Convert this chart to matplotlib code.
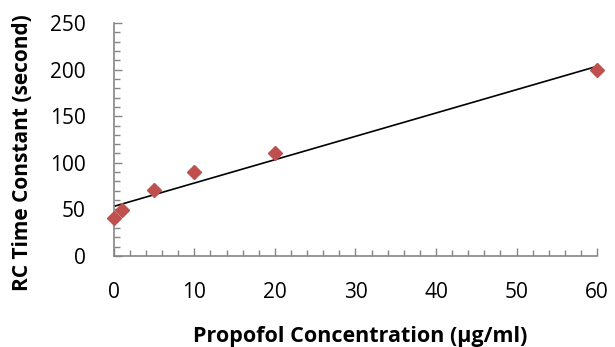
import matplotlib
matplotlib.use("Agg")
import matplotlib.pyplot as plt
import numpy as np
from matplotlib.ticker import MultipleLocator

concentration = [0, 1, 5, 10, 20, 60]
rc_time = [41, 49, 71, 90, 110, 199]

plt.rcParams["font.family"] = ["Open Sans", "DejaVu Sans"]

fig = plt.figure(figsize=(6.15, 3.47), dpi=100)
ax = fig.add_axes([0.185, 0.262, 0.786, 0.672])

# linear trendline fitted to the measurements
slope, intercept = np.polyfit(concentration, rc_time, 1)
xs = np.array([min(concentration), max(concentration)])
ax.plot(xs, slope * xs + intercept, color="black", linewidth=1.2, zorder=2)

ax.plot(concentration, rc_time, linestyle="none", marker="D",
        markersize=7, color="#C0504D", zorder=3, clip_on=False)

ax.set_xlim(0, 60)
ax.set_ylim(0, 250)
ax.xaxis.set_major_locator(MultipleLocator(10))
ax.xaxis.set_minor_locator(MultipleLocator(2))
ax.yaxis.set_major_locator(MultipleLocator(50))
ax.yaxis.set_minor_locator(MultipleLocator(10))

for side in ("top", "right"):
    ax.spines[side].set_visible(False)
for side in ("left", "bottom"):
    ax.spines[side].set_color("#868686")
    ax.spines[side].set_linewidth(1.2)

ax.tick_params(which="major", direction="in", length=6, width=1, color="#868686",
               labelsize=15)
ax.tick_params(which="minor", direction="in", length=4, width=1, color="#868686")
ax.tick_params(axis="x", which="major", pad=19)
ax.tick_params(axis="y", which="major", pad=20)

ax.set_xlabel("Propofol Concentration (µg/ml)", fontsize=15.5, fontweight="bold", labelpad=16)
ax.xaxis.label.set_x(0.51)
ax.set_ylabel("RC Time Constant (second)", fontsize=15, fontweight="bold")
ax.yaxis.set_label_coords(-0.168, 0.445)

fig.savefig("out.png", dpi=100)
